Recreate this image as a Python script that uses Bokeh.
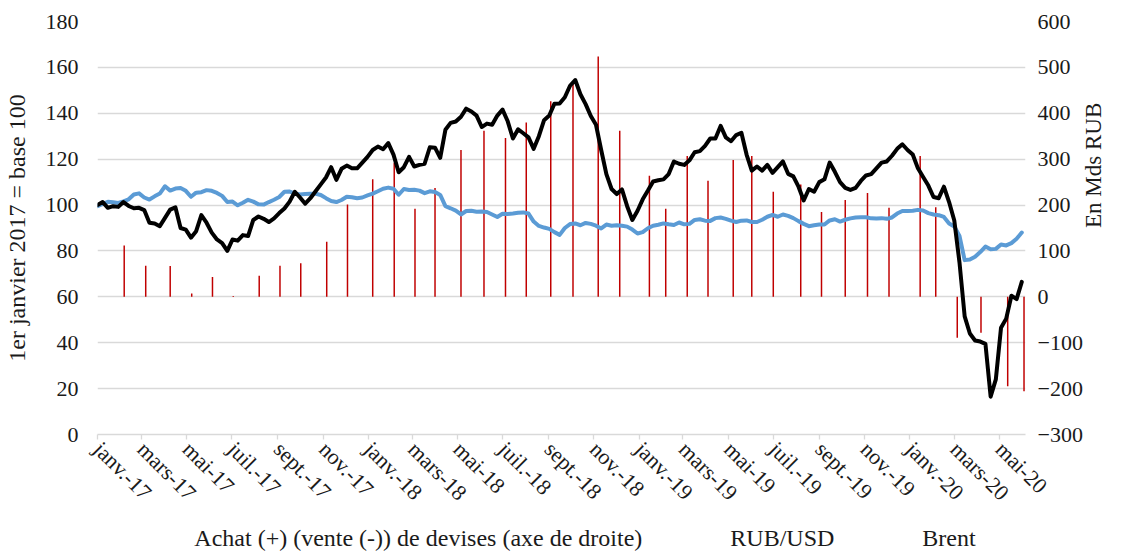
import math
import pandas as pd
from bokeh.plotting import figure
from bokeh.layouts import column
from bokeh.models import (Range1d, LinearAxis, FixedTicker, CustomJSTickFormatter,
                          Legend, LegendItem, ColumnDataSource)
from bokeh.embed import file_html
from bokeh.resources import INLINE

# ---------------- data ----------------
series_start = "2017-01-01"          # weekly observations
brent = [
    100.0, 101.3, 98.8, 99.5, 99.2, 101.3, 99.6, 98.6, 98.8, 97.8,
    92.3, 92.0, 90.8, 94.4, 98.0, 99.0, 90.0, 89.3, 85.8, 88.6,
    95.6, 92.3, 88.0, 85.0, 83.4, 80.0, 85.0, 84.5, 86.9, 86.5,
    93.5, 95.0, 94.0, 92.6, 94.2, 96.5, 98.5, 101.5, 105.8, 103.3,
    100.6, 103.0, 106.0, 109.0, 112.0, 116.5, 111.0, 115.8, 117.2, 116.0,
    116.0, 118.5, 121.0, 124.0, 125.5, 124.3, 127.0, 122.0, 114.3, 116.5,
    121.0, 116.8, 117.5, 118.0, 125.2, 125.0, 120.6, 132.8, 135.8, 136.4,
    138.5, 142.0, 140.8, 139.0, 134.0, 135.5, 135.0, 139.0, 141.6, 136.5,
    129.0, 133.0, 131.3, 129.5, 124.5, 130.0, 137.0, 139.0, 144.2, 144.3,
    147.0, 152.0, 154.5, 148.3, 144.0, 138.8, 135.0, 124.0, 113.5, 107.0,
    104.8, 106.8, 99.5, 93.5, 97.5, 102.5, 106.3, 110.3, 110.8, 111.2,
    113.5, 119.0, 118.0, 117.5, 119.5, 123.0, 123.5, 125.8, 129.0, 129.0,
    134.5, 129.5, 127.8, 130.5, 131.5, 122.0, 115.0, 116.8, 115.0, 117.5,
    114.0, 116.5, 119.0, 113.6, 112.5, 108.0, 102.0, 107.0, 105.8, 110.0,
    111.2, 118.5, 114.5, 110.0, 107.5, 106.6, 107.5, 110.5, 112.9, 113.5,
    116.0, 118.5, 119.0, 121.5, 124.5, 126.5, 124.0, 122.0, 116.0, 112.2,
    108.5, 103.5, 103.0, 108.0, 101.3, 93.3, 75.0, 51.5, 44.0, 41.0,
    40.5, 39.5, 16.5, 24.0, 46.5, 50.5, 60.5, 59.0, 66.5,
]
rub_usd = [
    99.5, 100.5, 101.4, 101.2, 100.9, 101.6, 102.5, 104.6, 105.1, 103.3,
    102.4, 103.8, 105.0, 108.2, 106.3, 107.2, 107.4, 106.2, 103.6, 105.4,
    105.6, 106.5, 106.2, 105.3, 104.0, 101.3, 101.5, 99.9, 101.0, 102.3,
    101.5, 100.3, 100.2, 101.3, 102.3, 103.5, 105.8, 105.9, 105.1, 104.6,
    104.8, 104.9, 104.9, 104.4, 103.0, 101.8, 101.3, 102.2, 103.6, 103.4,
    103.0, 103.3, 104.2, 105.0, 106.0, 107.1, 107.6, 107.1, 104.5, 107.0,
    106.6, 106.7, 106.3, 105.2, 106.0, 105.7, 104.4, 99.5, 98.6, 97.6,
    95.9, 97.4, 97.5, 97.1, 97.2, 97.0, 95.9, 94.8, 96.2, 96.1,
    96.3, 96.6, 96.8, 96.3, 92.8, 90.9, 90.2, 89.6, 88.2, 87.0,
    90.0, 91.7, 92.0, 91.2, 92.2, 91.8, 91.0, 89.8, 91.5, 91.0,
    91.2, 91.0, 90.6, 89.3, 87.6, 88.2, 89.9, 91.0, 91.4, 92.0,
    91.6, 91.3, 92.4, 91.6, 91.8, 93.5, 93.8, 93.2, 93.1, 94.3,
    94.6, 94.0, 93.2, 92.6, 93.2, 93.3, 92.6, 92.6, 93.6, 94.9,
    95.7, 94.9, 95.9, 95.3, 94.3, 93.0, 91.8, 90.8, 91.2, 91.5,
    91.5, 93.3, 93.8, 92.8, 93.6, 94.2, 94.6, 94.7, 94.7, 94.2,
    94.1, 94.3, 94.0, 94.6, 96.3, 97.4, 97.4, 97.5, 97.9, 97.6,
    96.5, 95.9, 95.6, 94.8, 92.0, 90.7, 86.5, 76.0, 76.3, 77.5,
    79.5, 81.9, 80.7, 80.9, 82.8, 82.4, 83.4, 85.3, 88.0,
]
fx_dates = [
    "2017-02-06", "2017-03-07", "2017-04-09", "2017-05-08", "2017-06-05", "2017-07-03",
    "2017-08-07", "2017-09-04", "2017-10-02", "2017-11-06", "2017-12-04",
    "2018-01-07", "2018-02-05", "2018-03-05", "2018-04-01", "2018-05-06", "2018-06-06",
    "2018-07-05", "2018-08-02", "2018-09-04", "2018-10-04", "2018-11-07", "2018-12-06",
    "2019-01-15", "2019-02-06", "2019-03-07", "2019-04-04", "2019-05-08", "2019-06-02",
    "2019-07-01", "2019-08-07", "2019-09-04", "2019-10-06", "2019-11-05", "2019-12-04",
    "2020-01-15", "2020-02-05", "2020-03-05", "2020-04-06", "2020-05-12", "2020-06-03",
]
fx_purchases = [
    112, 68, 67, 7, 43, 2, 46, 68, 73, 120, 201,
    256, 292, 192, 237, 320, 362, 346, 380, 426, 464, 524, 362,
    264, 192, 307, 253, 298, 307, 229, 245, 185, 211, 226, 194,
    307, 195, -89, -78, -195, -206,
]
tick_dates = pd.date_range("2017-01-01", "2020-05-01", freq="2MS")
tick_labels = [
    "janv.-17", "mars-17", "mai-17", "juil.-17", "sept.-17", "nov.-17",
    "janv.-18", "mars-18", "mai-18", "juil.-18", "sept.-18", "nov.-18",
    "janv.-19", "mars-19", "mai-19", "juil.-19", "sept.-19", "nov.-19",
    "janv.-20", "mars-20", "mai-20",
]
left_ticks = [0, 20, 40, 60, 80, 100, 120, 140, 160, 180]
right_ticks = [-300, -200, -100, 0, 100, 200, 300, 400, 500, 600]

left_title = "1er janvier 2017 = base 100"
right_title = "En Mds RUB"
label_bars = "Achat (+) (vente (-)) de devises (axe de droite)"
label_rub = "RUB/USD"
label_brent = "Brent"

# ---------------- helpers ----------------
EPOCH = pd.Timestamp("1970-01-01")
DAY_MS = 86400000.0


def to_ms(dates):
    idx = pd.DatetimeIndex(dates)
    return [float((d - EPOCH) / pd.Timedelta(milliseconds=1)) for d in idx]


week_dates = pd.date_range(series_start, periods=len(brent), freq="7D")
week_ms = to_ms(week_dates)
bar_ms = to_ms(fx_dates)
tick_ms = to_ms(tick_dates)

x_start = to_ms(["2017-01-01"])[0]
x_end = to_ms(["2020-06-05"])[0]

FONT = "Liberation Serif"
TXT = "#1a1a1a"
GRID = "#d9d9d9"
RED = "#c00000"
BLUE = "#5b9bd5"
BLACK = "#000000"

W = 1121
H_MAIN, H_LEG = 520, 36
BL, BR, BT, BB = 96, 89, 21, 86

p = figure(width=W, height=H_MAIN, output_backend="svg", toolbar_location=None,
           x_range=Range1d(x_start, x_end), y_range=Range1d(0, 180),
           min_border_left=BL, min_border_right=BR, min_border_top=BT,
           min_border_bottom=BB)
p.extra_y_ranges = {"right": Range1d(-300, 600)}
p.outline_line_color = None
p.background_fill_color = "white"
p.border_fill_color = "white"

p.xgrid.visible = False
p.ygrid.grid_line_color = GRID
p.ygrid.grid_line_width = 1.3
p.ygrid.ticker = FixedTicker(ticks=left_ticks)

# bars (right axis)
bar_src = ColumnDataSource(dict(x=bar_ms, top=fx_purchases))
p.vbar(x="x", top="top", bottom=0, width=2.0 * DAY_MS, source=bar_src,
       y_range_name="right", fill_color=RED, line_color=None)

rub_src = ColumnDataSource(dict(x=week_ms, y=rub_usd))
p.line(x="x", y="y", source=rub_src, line_color=BLUE, line_width=4,
       line_join="round", line_cap="round")
brent_src = ColumnDataSource(dict(x=week_ms, y=brent))
p.line(x="x", y="y", source=brent_src, line_color=BLACK, line_width=4,
       line_join="round", line_cap="round")

# x axis
xa = p.xaxis[0]
xa.ticker = FixedTicker(ticks=tick_ms)
xa.formatter = CustomJSTickFormatter(args=dict(tvals=tick_ms, tnames=tick_labels), code="""
let best = 0, bd = Infinity;
for (let i = 0; i < tvals.length; i++) {
  const d = Math.abs(tvals[i] - tick);
  if (d < bd) { bd = d; best = i; }
}
return tnames[best];
""")
xa.major_label_orientation = -math.pi / 4
xa.major_label_text_font = FONT
xa.major_label_text_font_size = "22px"
xa.major_label_text_color = TXT
xa.axis_line_color = GRID
xa.axis_line_width = 1.3
xa.major_tick_line_color = GRID
xa.major_tick_line_width = 1.3
xa.major_tick_in = 0
xa.major_tick_out = 5
xa.minor_tick_line_color = None
xa.major_label_standoff = 6

# left axis
ya = p.yaxis[0]
ya.ticker = FixedTicker(ticks=left_ticks)
ya.axis_label = left_title
ya.axis_label_text_font = FONT
ya.axis_label_text_font_size = "24px"
ya.axis_label_text_font_style = "normal"
ya.axis_label_text_color = TXT
ya.axis_label_standoff = 13
ya.major_label_text_font = FONT
ya.major_label_text_font_size = "22px"
ya.major_label_text_color = TXT
ya.major_label_standoff = 19
ya.major_tick_in = 0
ya.major_tick_out = 0
ya.axis_line_color = None
ya.major_tick_line_color = None
ya.minor_tick_line_color = None

# right axis
ra = LinearAxis(y_range_name="right", ticker=FixedTicker(ticks=right_ticks),
                axis_label=right_title)
ra.axis_label_text_font = FONT
ra.axis_label_text_font_size = "23px"
ra.axis_label_text_font_style = "normal"
ra.axis_label_text_color = TXT
ra.axis_label_standoff = 8
if "axis_label_orientation" in ra.properties():
    ra.axis_label_orientation = math.pi / 2   # read bottom-to-top, like the left title
ra.major_label_text_font = FONT
ra.major_label_text_font_size = "22px"
ra.major_label_text_color = TXT
ra.major_label_standoff = 12
ra.major_tick_in = 0
ra.major_tick_out = 0
ra.axis_line_color = None
ra.major_tick_line_color = None
ra.minor_tick_line_color = None
p.add_layout(ra, "right")

# ---------------- legend strip under the chart ----------------
leg = figure(width=W, height=H_LEG, output_backend="svg", toolbar_location=None,
             x_axis_type=None, y_axis_type=None,
             x_range=Range1d(0, 1), y_range=Range1d(0, 1), min_border=0)
leg.outline_line_color = None
leg.background_fill_color = "white"
leg.border_fill_color = "white"
sw_bar = leg.vbar(x=[], top=[], bottom=0, width=0.01, fill_color=RED, line_color=None)
sw_rub = leg.line(x=[], y=[], line_color=BLUE, line_width=4)
sw_brent = leg.line(x=[], y=[], line_color=BLACK, line_width=4)

legend = Legend(items=[LegendItem(label=label_bars, renderers=[sw_bar]),
                       LegendItem(label=label_rub, renderers=[sw_rub]),
                       LegendItem(label=label_brent, renderers=[sw_brent])],
                location="center", orientation="horizontal",
                glyph_width=44, glyph_height=14, label_standoff=4, spacing=40,
                padding=0, margin=0, border_line_color=None,
                background_fill_alpha=0,
                label_text_font=FONT, label_text_font_size="24px",
                label_text_color=TXT)
leg.add_layout(legend, "center")

layout = column(p, leg, spacing=0)

open("out.html", "w").write(file_html(layout, INLINE))
